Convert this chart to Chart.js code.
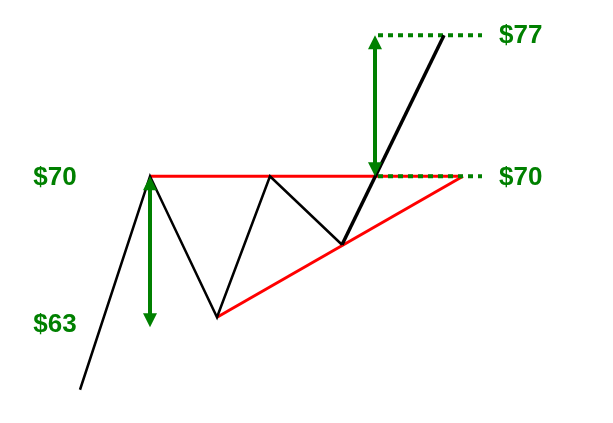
<!DOCTYPE html>
<html>
<head>
<meta charset="utf-8">
<script src="https://cdn.jsdelivr.net/npm/chart.js@4/dist/chart.umd.min.js"></script>
<style>
  html, body { margin: 0; padding: 0; background: #fff; }
  #wrap { width: 613px; height: 423px; }
</style>
</head>
<body>
<div id="wrap"><canvas id="myChart" width="613" height="423"></canvas></div>
<script>
// Price path (time units, dollars)
var priceX = [8, 15, 21.7, 27, 34.2, 44.4];
var priceY = [59.4, 70, 63, 70, 66.6, 77];

// Triangle lines
var resistance = 70;
var resistanceX = [15, 46.3];
var supportX = [21.7, 46.3];
var supportY = [63, 70];

// Targets (dotted)
var targetX = [37.8, 48.2];
var breakoutLevel = 70;
var targetLevel = 77;

// Measuring arrows: x, from, to
var arrowX = [15, 37.5];
var arrowFrom = [70, 77];
var arrowTo = [62.5, 70];

// Price labels
var leftLabels = [70, 63];
var rightLabels = [77, 70];

var green = 'rgb(0, 128, 0)';

function pts(xs, ys) {
    return xs.map(function (x, i) { return { x: x, y: ys[i] }; });
}

// Arrows and text drawn on top with the chart scales
var annotate = {
    id: 'annotate',
    afterDatasetsDraw: function (chart) {
        var c = chart.ctx;
        var xs = chart.scales.x, ys = chart.scales.y;
        c.save();
        c.strokeStyle = green;
        c.fillStyle = green;
        c.lineWidth = 4;
        for (var i = 0; i < arrowX.length; i++) {
            var px = xs.getPixelForValue(arrowX[i]);
            var y1 = ys.getPixelForValue(arrowFrom[i]);
            var y2 = ys.getPixelForValue(arrowTo[i]);
            c.beginPath();
            c.moveTo(px, y1 + 12);
            c.lineTo(px, y2 - 12);
            c.stroke();
            // heads
            c.beginPath();
            c.moveTo(px, y1);
            c.lineTo(px - 7, y1 + 14);
            c.lineTo(px + 7, y1 + 14);
            c.closePath();
            c.fill();
            c.beginPath();
            c.moveTo(px, y2);
            c.lineTo(px - 7, y2 - 14);
            c.lineTo(px + 7, y2 - 14);
            c.closePath();
            c.fill();
        }
        c.font = 'bold 26px "Liberation Sans", Arial, sans-serif';
        c.textBaseline = 'middle';
        var leftOff = [2, 8];
        c.textAlign = 'center';
        leftLabels.forEach(function (p, i) {
            c.fillText('$' + p, xs.getPixelForValue(5.5), ys.getPixelForValue(p) + leftOff[i]);
        });
        var rightOff = [1, 2];
        c.textAlign = 'left';
        rightLabels.forEach(function (p, i) {
            c.fillText('$' + p, xs.getPixelForValue(49.9), ys.getPixelForValue(p) + rightOff[i]);
        });
        c.restore();
    }
};

var ctx = document.getElementById('myChart').getContext('2d');
var myChart = new Chart(ctx, {
    type: 'line',
    data: {
        datasets: [{
            label: 'Price',
            data: pts(priceX, priceY),
            borderColor: '#000',
            borderWidth: 2.5,
            segment: {
                borderWidth: function (s) { return s.p0DataIndex >= 4 ? 3.5 : 2.5; }
            },
            order: 1
        }, {
            label: 'Resistance',
            data: pts(resistanceX, [resistance, resistance]),
            borderColor: '#ff0000',
            borderWidth: 3,
            order: 3
        }, {
            label: 'Support',
            data: pts(supportX, supportY),
            borderColor: '#ff0000',
            borderWidth: 3,
            order: 3
        }, {
            label: 'Breakout',
            data: pts(targetX, [breakoutLevel, breakoutLevel]),
            borderColor: green,
            borderWidth: 4,
            borderDash: [5, 5],
            order: 2
        }, {
            label: 'Target',
            data: pts(targetX, [targetLevel, targetLevel]),
            borderColor: green,
            borderWidth: 4,
            borderDash: [5, 5],
            order: 2
        }]
    },
    options: {
        responsive: false,
        animation: false,
        events: [],
        layout: { padding: 0 },
        elements: {
            point: { radius: 0 },
            line: { tension: 0, fill: false, borderCapStyle: 'butt' }
        },
        scales: {
            x: { type: 'linear', min: 0, max: 61.3, display: false },
            y: { type: 'linear', min: 57.75, max: 78.75, display: false }
        },
        plugins: {
            legend: { display: false },
            tooltip: { enabled: false }
        }
    },
    plugins: [annotate]
});
</script>
</body>
</html>
